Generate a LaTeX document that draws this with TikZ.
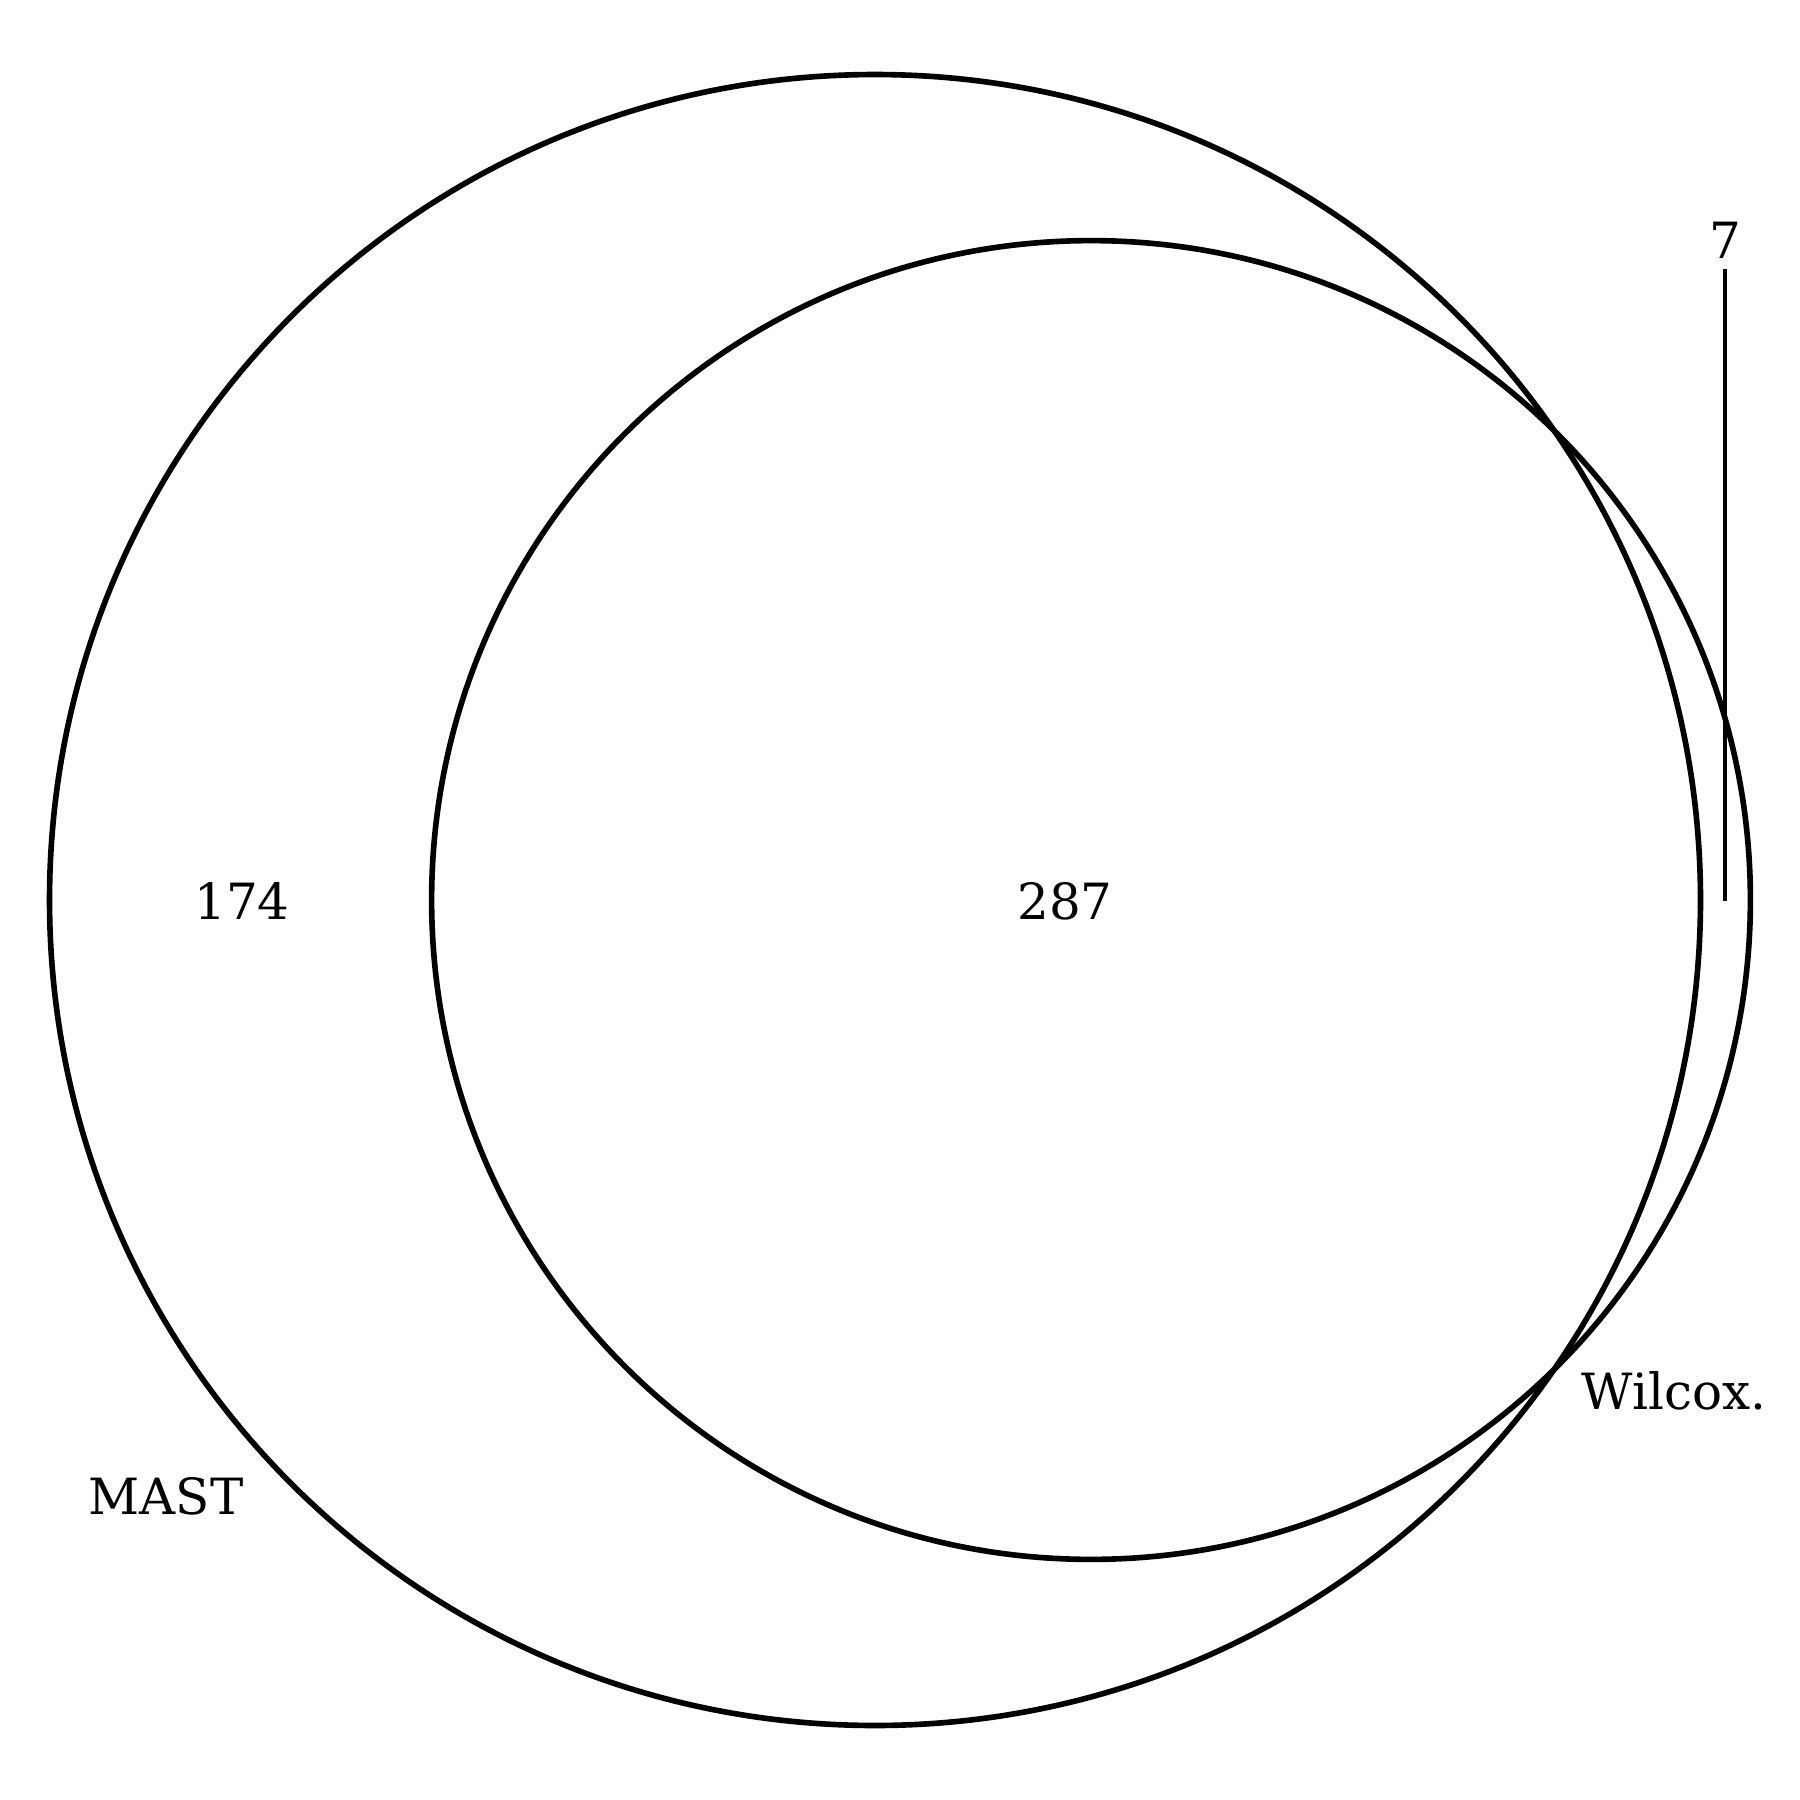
\documentclass[tikz,border=0pt]{standalone}
\usepackage{fontspec}
\setmainfont{DejaVu Serif}
\usepackage{tikz}

\begin{document}
\begin{tikzpicture}[x=0.01cm,y=-0.01cm,
  set circle/.style={circle,draw,line width=1.6pt,inner sep=0pt,outer sep=0pt},
  count label/.style={inner sep=0pt,font=\fontsize{14.2}{17}\selectfont}]
  \useasboundingbox (0,0) rectangle (1800,1800);

  \node[set circle,minimum size=16.5cm] (mast) at (875,900) {};
  \node[set circle,minimum size=13.18cm] (wilcox) at (1091,900) {};

  \node[count label] (174) at (242,901) {174};
  \node[count label] (287) at (1065,901) {287};
  \node[count label] (7) at (1725,240) {7};
  \node[count label] (mastname) at (166,1496) {MAST};
  \node[count label] (wilcoxname) at (1674,1391) {Wilcox.};

  \coordinate (7end) at (1725,901);
  \draw[line width=1.05pt] ([yshift=-3pt]7.south) -- (7end);
\end{tikzpicture}
\end{document}
